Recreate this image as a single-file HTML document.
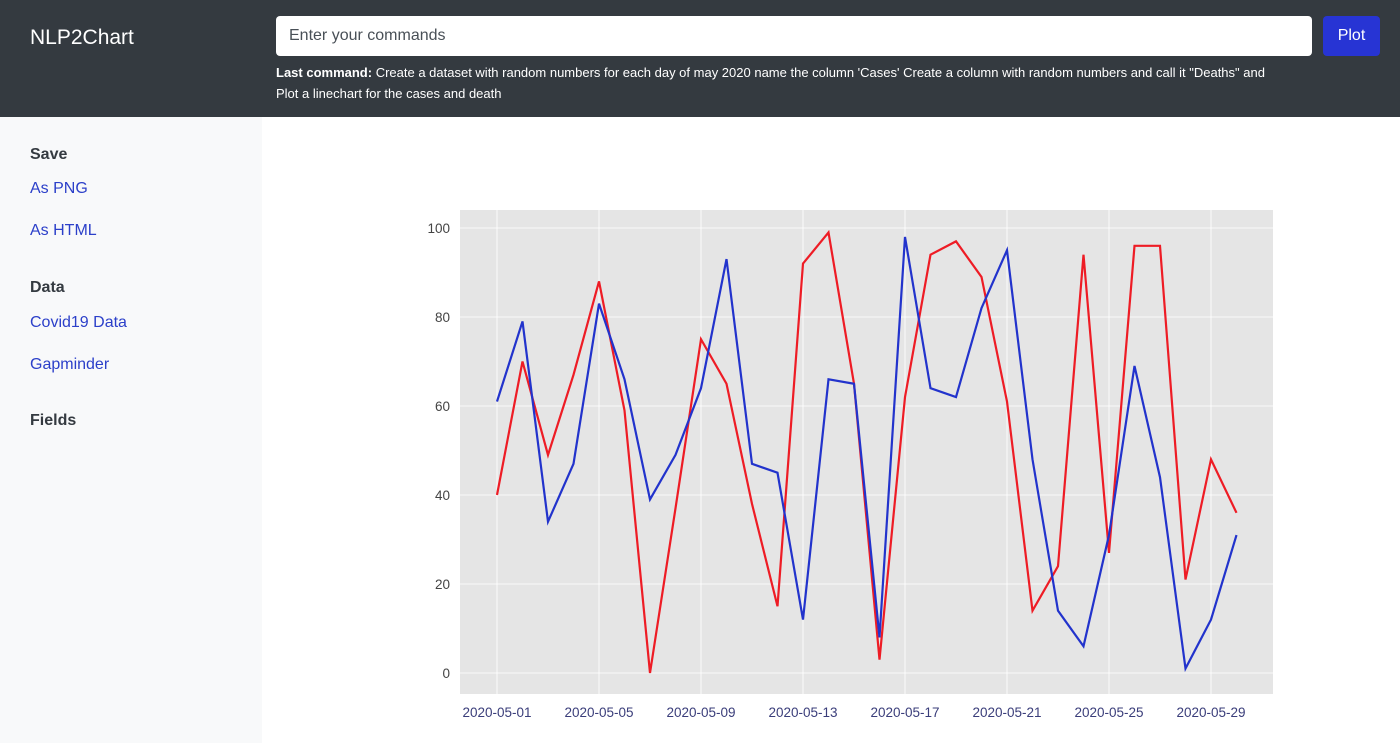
<!DOCTYPE html>
<html><head><meta charset="utf-8"><style>
body{margin:0;width:1400px;height:743px;overflow:hidden;font-family:"Liberation Sans",sans-serif;background:#fff;position:relative}
.hdr{position:absolute;left:0;top:0;width:1400px;height:117px;background:#343a40;color:#fff}
.brand{position:absolute;left:30px;top:26px;font-size:21px}
.inp{position:absolute;left:276px;top:16px;width:1036px;height:40px;background:#fff;border-radius:4px;box-sizing:border-box;padding:11px 13px;font-size:16px;color:#495057}
.btn{position:absolute;left:1323px;top:16px;width:57px;height:40px;background:#2734d4;border-radius:4px;color:#fff;font-size:16px;text-align:center;line-height:40px}
.last{position:absolute;left:276px;top:62px;width:1040px;font-size:13px;line-height:21px;white-space:nowrap}
.side{position:absolute;left:0;top:117px;width:262px;height:626px;background:#f8f9fa}
.side div{position:absolute;left:30px;font-size:16px}
.h{color:#343a40;font-weight:bold}
.l{color:#2b3fc9}
</style></head><body>
<div class="hdr">
<div class="brand">NLP2Chart</div>
<div class="inp">Enter your commands</div>
<div class="btn">Plot</div>
<div class="last"><b>Last command:</b> Create a dataset with random numbers for each day of may 2020 name the column 'Cases' Create a column with random numbers and call it "Deaths" and<br>Plot a linechart for the cases and death</div>
</div>
<div class="side">
<div class="h" style="top:29px">Save</div>
<div class="l" style="top:63px">As PNG</div>
<div class="l" style="top:105px">As HTML</div>
<div class="h" style="top:162px">Data</div>
<div class="l" style="top:197px">Covid19 Data</div>
<div class="l" style="top:239px">Gapminder</div>
<div class="h" style="top:295px">Fields</div>
</div>
<svg id="chart" width="1400" height="743" style="position:absolute;left:0;top:0"></svg>
<script>
const cases=[40,70,49,67,88,59,0,37,75,65,38,15,92,99,65,3,62,94,97,89,61,14,24,94,27,96,96,21,48,36];
const deaths=[61,79,34,47,83,66,39,49,64,93,47,45,12,66,65,8,98,64,62,82,95,48,14,6,31,69,44,1,12,31];
const yTicks=[0,20,40,60,80,100];
const xTickDays=[1,5,9,13,17,21,25,29];
const svg=document.getElementById('chart');
const NS='http://www.w3.org/2000/svg';
const xs=d=>497+(d-1)*25.5;
const ys=v=>673-v*4.45;
function mk(t,a){const e=document.createElementNS(NS,t);for(const k in a)e.setAttribute(k,a[k]);svg.appendChild(e);return e;}
const bg=mk('rect',{x:460,y:210,width:813,height:484,fill:'#e5e5e5'});


yTicks.forEach(v=>{
 const g=mk('line',{x1:460,x2:1273,y1:ys(v),y2:ys(v),stroke:'#fff','stroke-width':0.8});
 
 
 const t=mk('text',{x:450,y:ys(v)+5,'text-anchor':'end','font-size':13.5,fill:'#444'});
 t.textContent=v;
 
 
});
xTickDays.forEach(d=>{
 const g=mk('line',{x1:xs(d),x2:xs(d),y1:210,y2:694,stroke:'#fff','stroke-width':0.8});
 
 
 const t=mk('text',{x:xs(d),y:717,'text-anchor':'middle','font-size':13.5,fill:'#3a3d7a'});
 t.textContent='2020-05-'+String(d).padStart(2,'0');
 
 
});
function line(arr,col,name){
 const p=mk('polyline',{points:arr.map((v,i)=>xs(i+1)+','+ys(v)).join(' '),fill:'none',stroke:col,'stroke-width':2.2});
 
 
}
line(cases,'#ee1c25','cases-line');
line(deaths,'#2233cc','deaths-line');
</script>
</body></html>
